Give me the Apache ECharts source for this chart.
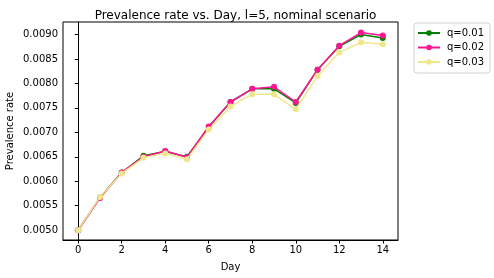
<!DOCTYPE html>
<html>
<head>
<meta charset="utf-8">
<script src="https://cdn.jsdelivr.net/npm/echarts@6/dist/echarts.min.js"></script>
<style>html,body{margin:0;padding:0;background:#fff}#c{width:494px;height:278px}</style>
</head>
<body>
<div id="c"></div>
<script>
var days = [0,1,2,3,4,5,6,7,8,9,10,11,12,13,14];
var q001 = [0.0050,0.00567,0.00618,0.00652,0.00661,0.00650,0.00711,0.00762,0.00789,0.00789,0.00760,0.00828,0.00876,0.00900,0.00893];
var q002 = [0.0050,0.00566,0.00618,0.00650,0.00662,0.00649,0.00712,0.00762,0.00789,0.00793,0.00762,0.00828,0.00877,0.00904,0.00898];
var q003 = [0.0050,0.00568,0.00616,0.00648,0.00657,0.00645,0.00706,0.00753,0.00778,0.00778,0.00747,0.00815,0.00863,0.00884,0.00880];
var seriesNames = ['q=0.01','q=0.02','q=0.03'];
var xTicks = [0,2,4,6,8,10,12,14];
var yTicks = [0.0050,0.0055,0.0060,0.0065,0.0070,0.0075,0.0080,0.0085,0.0090];

var FONT = 'DejaVu Sans';
function pairs(v){ return days.map(function(d,i){ return [d, v[i]]; }); }
function mk(name, vals, color, z){
  return {
    name: name, type: 'line', data: pairs(vals), z: z,
    symbol: 'circle', symbolSize: 6, showSymbol: true,
    lineStyle: {color: color, width: 1.5},
    itemStyle: {color: color, borderWidth: 0},
    emphasis: {disabled: true}, animation: false
  };
}
var chart = echarts.init(document.getElementById('c'), null, {renderer: 'canvas'});
chart.setOption({
  backgroundColor: '#fff',
  animation: false,
  title: {
    text: 'Prevalence rate vs. Day, l=5, nominal scenario',
    left: 230.5, textAlign: 'center', top: 5,
    textStyle: {fontFamily: FONT, fontSize: 12, fontWeight: 'normal', color: '#000'}
  },
  legend: {
    orient: 'vertical', left: 414, top: 23,
    padding: [5, 6, 6, 3], itemGap: 4.5,
    itemWidth: 22, itemHeight: 7,
    borderColor: '#d0d0d0', borderWidth: 1, borderRadius: 3,
    textStyle: {fontFamily: FONT, fontSize: 10, color: '#000', padding: [0,0,0,2]},
    data: seriesNames
  },
  grid: {left: 63, right: 96, top: 22, bottom: 38, show: true, borderColor: '#000', borderWidth: 1,
    containLabel: false, outerBoundsMode: 'none'},
  xAxis: {
    type: 'value', min: -0.7, max: 14.7,
    name: 'Day', nameLocation: 'middle', nameGap: 22, nameMoveOverlap: false,
    nameTextStyle: {fontFamily: FONT, fontSize: 10, color: '#000'},
    axisLine: {show: true, lineStyle: {color: '#000', width: 1}},
    axisTick: {show: true, length: 3.5, lineStyle: {color: '#000'}, customValues: xTicks},
    axisLabel: {fontFamily: FONT, fontSize: 10, color: '#000', margin: 5, customValues: xTicks},
    splitLine: {show: false}
  },
  yAxis: {
    type: 'value', min: 0.0048, max: 0.009255,
    name: 'Prevalence rate', nameLocation: 'middle', nameGap: 48, nameRotate: 90, nameMoveOverlap: false,
    nameTextStyle: {fontFamily: FONT, fontSize: 10, color: '#000'},
    axisLine: {show: true, lineStyle: {color: '#000', width: 1}},
    axisTick: {show: true, length: 3.5, lineStyle: {color: '#000'}, customValues: yTicks},
    axisLabel: {fontFamily: FONT, fontSize: 10, color: '#000', margin: 5, customValues: yTicks,
      formatter: function(v){ return v.toFixed(4); }},
    splitLine: {show: false}
  },
  series: [
    mk(seriesNames[0], q001, '#008000', 2),
    mk(seriesNames[1], q002, '#ff1493', 3),
    mk(seriesNames[2], q003, '#f0e68c', 4)
  ]
});
</script>
</body>
</html>
